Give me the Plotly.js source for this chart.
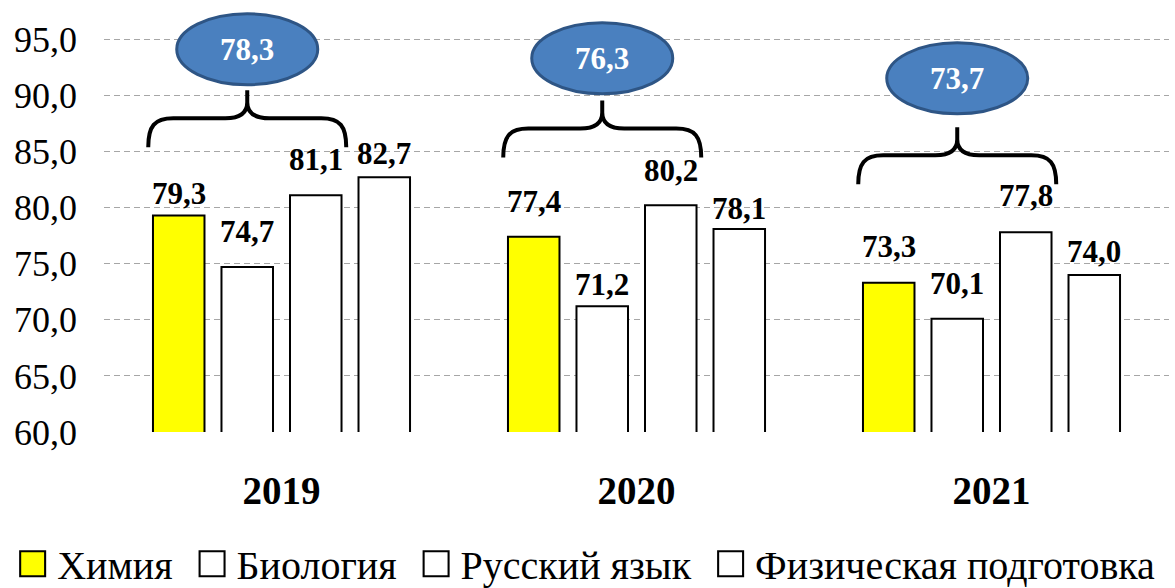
<!DOCTYPE html>
<html>
<head>
<meta charset="utf-8">
<script src="https://cdn.plot.ly/plotly-3.0.1.min.js"></script>
<style>
  html, body { margin: 0; padding: 0; background: #fff; }
  #chart { width: 1175px; height: 588px; }
</style>
</head>
<body>
<div id="chart"></div>
<script>
// ---- data ----
const years = ['2019', '2020', '2021'];
const subjects = ['Химия', 'Биология', 'Русский язык', 'Физическая подготовка'];
const chemistry = [79.3, 77.4, 73.3];
const biology = [74.7, 71.2, 70.1];
const russian = [81.1, 80.2, 77.8];
const physical = [82.7, 78.1, 74.0];
const averageFirstThree = [78.3, 76.3, 73.7];

// ---- styles / positions (not data) ----
const FONT = 'Liberation Serif';
const barFills = ['#FFFF00', '#FFFFFF', '#FFFFFF', '#FFFFFF'];
const labelGaps = [[10, 24, 24.5], [24, 10, 24], [24, 23.6, 25], [12.7, 9.3, 12]];
const braceLevel = [87.96, 87.04, 84.66];
const ellipseLevel = [94.11, 93.31, 91.52];

const W = 1175, H = 588;
const M = { l: 104, r: 6, t: 0, b: 156 };
const xRange = [-0.5, 2.5];
const yRange = [60, 98.5];
const pxX = (W - M.l - M.r) / (xRange[1] - xRange[0]);
const pxY = (H - M.t - M.b) / (yRange[1] - yRange[0]);
const bargap = 0.228;
const slot = (1 - bargap) / 4;

const fmt = v => v.toFixed(1).replace('.', ',');
const xIdx = years.map((_, i) => i);
const series = [chemistry, biology, russian, physical];

const traces = series.map((vals, s) => ({
  type: 'bar',
  name: subjects[s] + '\u00a0',
  x: xIdx,
  y: vals,
  marker: { color: barFills[s], line: { color: '#000000', width: 2 } },
  hoverinfo: 'skip'
}));

const annotations = [];
series.forEach((vals, s) => {
  vals.forEach((v, i) => {
    annotations.push({
      x: i + (s - 1.5) * slot, y: v, xref: 'x', yref: 'y',
      text: '<b>' + fmt(v) + '</b>', showarrow: false, yanchor: 'bottom', xanchor: 'center',
      yshift: labelGaps[s][i] - 8,
      font: { family: FONT, size: 31, color: '#000' }
    });
  });
});

const shapes = [];
averageFirstThree.forEach((avg, i) => {
  const cx = i + (1 - 1.5) * slot;
  const yh = braceLevel[i];
  const X = p => (cx + p / pxX).toFixed(5);
  const Y = p => (yh - p / pxY).toFixed(5);
  const path =
    `M${X(-99)},${Y(29)} C${X(-99)},${Y(8)} ${X(-93)},${Y(0)} ${X(-74)},${Y(0)} ` +
    `L${X(-22)},${Y(0)} C${X(-7)},${Y(0)} ${X(0)},${Y(-6)} ${X(0)},${Y(-16)} L${X(0)},${Y(-28)} ` +
    `M${X(0)},${Y(-16)} C${X(0)},${Y(-6)} ${X(7)},${Y(0)} ${X(22)},${Y(0)} ` +
    `L${X(74)},${Y(0)} C${X(93)},${Y(0)} ${X(99)},${Y(8)} ${X(99)},${Y(29)}`;
  shapes.push({
    type: 'path', xref: 'x', yref: 'y', path: path,
    line: { color: '#000', width: 4 }, fillcolor: 'rgba(0,0,0,0)', layer: 'above'
  });
  const ey = ellipseLevel[i];
  shapes.push({
    type: 'circle', xref: 'x', yref: 'y',
    x0: cx - 70.5 / pxX, x1: cx + 70.5 / pxX,
    y0: ey - 35.5 / pxY, y1: ey + 35.5 / pxY,
    fillcolor: '#4A80BF', line: { color: '#2E5585', width: 3 }, layer: 'above'
  });
  annotations.push({
    x: cx, y: ey, xref: 'x', yref: 'y', text: '<b>' + fmt(avg) + '</b>', showarrow: false,
    xanchor: 'center', yanchor: 'middle',
    font: { family: FONT, size: 31, color: '#FFFFFF' }
  });
});

const layout = {
  width: W, height: H,
  margin: { l: M.l, r: M.r, t: M.t, b: M.b, autoexpand: false },
  paper_bgcolor: '#FFFFFF', plot_bgcolor: '#FFFFFF',
  separators: ', ',
  barmode: 'group', bargap: bargap, bargroupgap: 0.248,
  font: { family: FONT, color: '#000' },
  xaxis: {
    range: xRange, tickmode: 'array', tickvals: xIdx, ticktext: years.map(y => '<b>' + y + '</b>'),
    showgrid: false, zeroline: false, showline: false, ticks: '',
    ticklabelstandoff: 32,
    tickfont: { family: FONT, size: 39, color: '#000' },
    fixedrange: true
  },
  yaxis: {
    range: yRange, tickmode: 'linear', tick0: 60, dtick: 5, tickformat: '.1f',
    showgrid: true, gridcolor: '#A6A6A6', gridwidth: 1, griddash: '6px,4px',
    zeroline: false, showline: false, ticks: '', ticklabelstandoff: 26,
    tickfont: { family: FONT, size: 36, color: '#000' },
    fixedrange: true
  },
  showlegend: true,
  legend: {
    orientation: 'h', x: -0.09, xanchor: 'left', y: -0.305, yanchor: 'middle',
    itemwidth: 39,
    font: { family: FONT, size: 40, color: '#000' },
    bgcolor: 'rgba(0,0,0,0)', borderwidth: 0,
    itemclick: false, itemdoubleclick: false
  },
  shapes: shapes,
  annotations: annotations
};

Plotly.newPlot('chart', traces, layout, { displayModeBar: false }).then(() => {
  document.querySelectorAll('.legend .traces .legendpoints path').forEach(p => {
    const t = p.getAttribute('transform') || '';
    p.setAttribute('transform', t + ' scale(2.08)');
    p.style.strokeWidth = '1px';
  });
});
</script>
</body>
</html>
